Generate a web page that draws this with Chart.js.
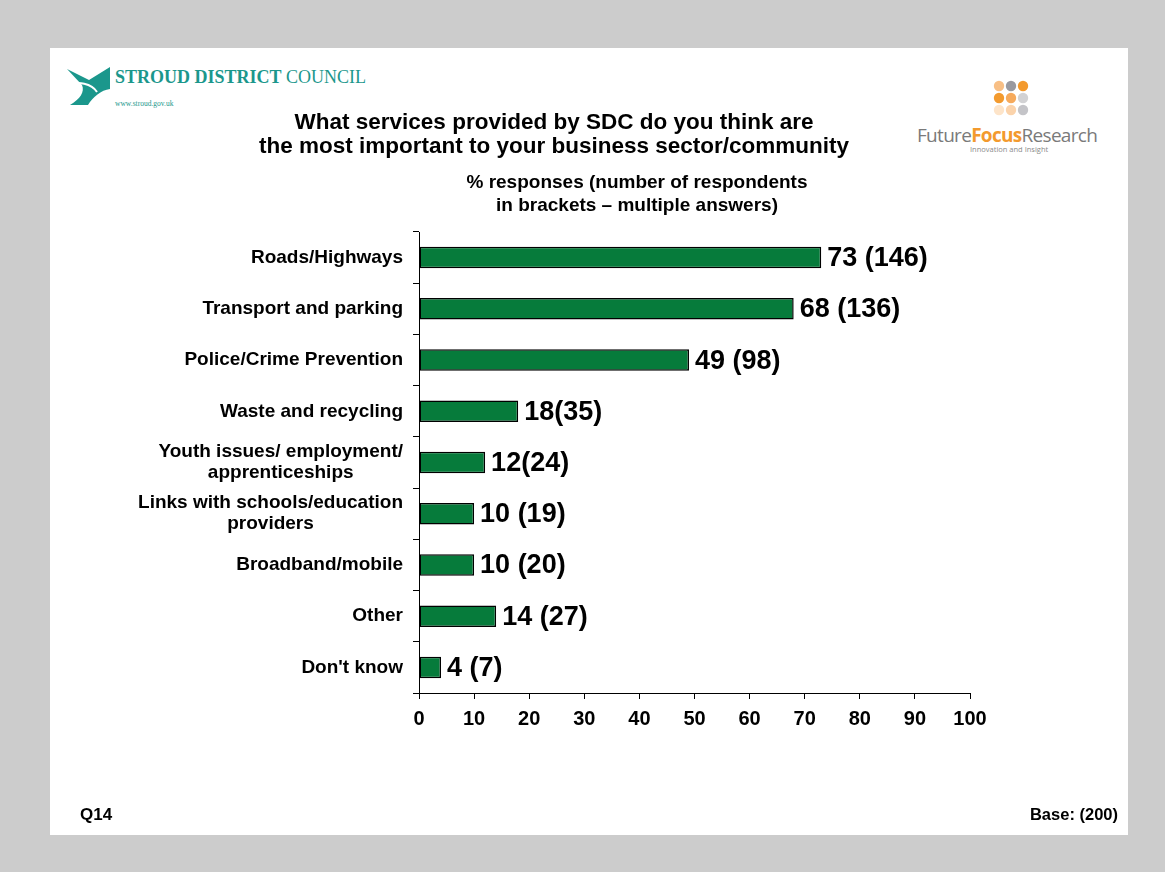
<!DOCTYPE html>
<html>
<head>
<meta charset="utf-8">
<title>Q14 - Important services</title>
<script src="https://cdn.jsdelivr.net/npm/chart.js@4.4.0/dist/chart.umd.min.js"></script>
<style>
  body { margin: 0; width: 1165px; height: 872px; background: #cccccc; overflow: hidden;
         font-family: "Liberation Sans", Arial, sans-serif; }
  #slide { position: absolute; left: 50px; top: 48px; width: 1078px; height: 787px; background: #ffffff; }
  #chart { position: absolute; left: 0; top: 0; }
  .txt { position: absolute; font-weight: bold; color: #000; white-space: nowrap; }
  #title { left: 254px; top: 110px; width: 600px; text-align: center; font-size: 22.5px; line-height: 24px; }
  #subtitle { left: 437px; top: 170px; width: 400px; text-align: center; font-size: 19px; line-height: 23px; }
  #q { left: 80px; top: 805px; font-size: 17px; }
  #base { right: 47px; top: 805px; font-size: 16.5px; }
  .sdc { position: absolute; left: 115px; top: 67px; font-family: "Liberation Serif", "DejaVu Serif", serif;
         color: #1b978c; font-size: 18px; white-space: nowrap; }
  .sdc b { font-weight: bold; }
  .sdcurl { position: absolute; left: 115px; top: 99px; font-family: "Liberation Serif", serif;
            color: #1b978c; font-size: 7.5px; }
  .ffr { position: absolute; left: 917px; top: 122px; font-family: "Open Sans", "Liberation Sans", sans-serif;
         font-size: 19px; color: #7a7a7a; letter-spacing: -0.7px; white-space: nowrap; }
  .ffr b { color: #f39a2e; font-weight: bold; }
  .ffrtag { position: absolute; left: 970px; top: 144px; font-family: "Open Sans", sans-serif;
            font-size: 7.5px; color: #8a8a8a; }
</style>
</head>
<body>
<div id="slide"></div>

<!-- council logo -->
<svg style="position:absolute;left:0;top:0" width="200" height="120">
  <path d="M67,69 L89,80 L110,67 L110,89 C101,90 93,97 88,105 L70,105 C80,99 85,92 82,85 Z" fill="#1b978c"/>
  <path d="M67,86 C78,80 92,84 97,92" stroke="#fff" stroke-width="2" fill="none"/>
</svg>
<div class="sdc"><b>STROUD DISTRICT</b> COUNCIL</div>
<div class="sdcurl">www.stroud.gov.uk</div>

<!-- research logo -->
<svg style="position:absolute;left:990px;top:80px" width="50" height="42">
  <circle cx="9" cy="6" r="5.2" fill="#f8bf85"/>
  <circle cx="21" cy="6" r="5.2" fill="#9a9aa0"/>
  <circle cx="33" cy="6" r="5.2" fill="#f39a2e"/>
  <circle cx="9" cy="18" r="5.2" fill="#f39a2e"/>
  <circle cx="21" cy="18" r="5.2" fill="#f6aa5c"/>
  <circle cx="33" cy="18" r="5.2" fill="#d2d2d4"/>
  <circle cx="9" cy="30" r="5.2" fill="#fde4c9"/>
  <circle cx="21" cy="30" r="5.2" fill="#fbd3ab"/>
  <circle cx="33" cy="30" r="5.2" fill="#c4c4c8"/>
</svg>
<div class="ffr">Future<b>Focus</b>Research</div>
<div class="ffrtag">Innovation and Insight</div>

<canvas id="chart" width="1165" height="872"></canvas>

<div id="title" class="txt">What services provided by SDC do you think are<br>the most important to your business sector/community</div>
<div id="subtitle" class="txt">% responses (number of respondents<br>in brackets – multiple answers)</div>
<div id="q" class="txt">Q14</div>
<div id="base" class="txt">Base: (200)</div>

<script>
// services, % of responses and number of respondents
var services = [
    ['Roads/Highways'],
    ['Transport and parking'],
    ['Police/Crime Prevention'],
    ['Waste and recycling'],
    ['Youth issues/ employment/', 'apprenticeships'],
    ['Links with schools/education', 'providers'],
    ['Broadband/mobile'],
    ['Other'],
    ["Don't know"]
];
var percents = [73, 68, 49, 18, 12, 10, 10, 14, 4];
var respondents = [146, 136, 98, 35, 24, 19, 20, 27, 7];
var labelGap = [' ', ' ', ' ', '', '', ' ', ' ', ' ', ' '];
var xTicks = [0, 10, 20, 30, 40, 50, 60, 70, 80, 90, 100];

var FONT = '"Liberation Sans", Arial, sans-serif';

// value labels at the bar ends
var barLabels = {
    id: 'barLabels',
    afterDatasetsDraw: function(chart) {
        var ctx = chart.ctx;
        var meta = chart.getDatasetMeta(0);
        ctx.save();
        ctx.font = 'bold 27px ' + FONT;
        ctx.fillStyle = '#000';
        ctx.textBaseline = 'middle';
        ctx.textAlign = 'left';
        meta.data.forEach(function(bar, i) {
            var txt = percents[i] + labelGap[i] + '(' + respondents[i] + ')';
            ctx.fillText(txt, bar.x + 6, bar.y + 1);
        });
        ctx.restore();
    }
};

// category names: block right-aligned to the axis, lines centred
var categoryLabels = {
    id: 'categoryLabels',
    afterDraw: function(chart) {
        var ctx = chart.ctx;
        var y = chart.scales.y;
        var right = y.right - 16;
        var lh = 21;
        ctx.save();
        ctx.font = 'bold 19px ' + FONT;
        ctx.fillStyle = '#000';
        ctx.textBaseline = 'middle';
        ctx.textAlign = 'center';
        services.forEach(function(lines, i) {
            var w = Math.max.apply(null, lines.map(function(l) { return ctx.measureText(l).width; }));
            var cx = right - w / 2;
            var cy = y.getPixelForValue(i) - (lines.length - 1) * lh / 2;
            lines.forEach(function(l, k) {
                ctx.fillText(l, cx, cy + k * lh);
            });
        });
        ctx.restore();
    }
};

var ctx = document.getElementById('chart').getContext('2d');
var chart = new Chart(ctx, {
    type: 'bar',
    data: {
        labels: services,
        datasets: [{
            data: percents,
            backgroundColor: '#067b3b',
            borderColor: '#000',
            borderWidth: 1.5,
            borderSkipped: false,
            barPercentage: 0.42,
            categoryPercentage: 1
        }]
    },
    options: {
        indexAxis: 'y',
        responsive: false,
        animation: false,
        layout: { padding: { top: 232, right: 195, bottom: 100, left: 0 } },
        plugins: {
            legend: { display: false },
            tooltip: { enabled: false }
        },
        scales: {
            x: {
                type: 'linear',
                min: 0,
                max: 100,
                afterBuildTicks: function(scale) {
                    scale.ticks = xTicks.map(function(v) { return { value: v }; });
                },
                afterFit: function(scale) { scale.height = 79; },
                ticks: {
                    color: '#000',
                    font: { family: FONT, size: 20, weight: 'bold' },
                    padding: 8
                },
                grid: { drawOnChartArea: false, drawTicks: true, tickLength: 6, color: '#000' },
                border: { color: '#000', width: 1 }
            },
            y: {
                afterFit: function(scale) { scale.width = 419; },
                ticks: { display: false },
                grid: { offset: true, drawOnChartArea: false, drawTicks: true, tickLength: 6, color: '#000' },
                border: { color: '#000', width: 1 }
            }
        }
    },
    plugins: [barLabels, categoryLabels]
});
</script>
</body>
</html>
